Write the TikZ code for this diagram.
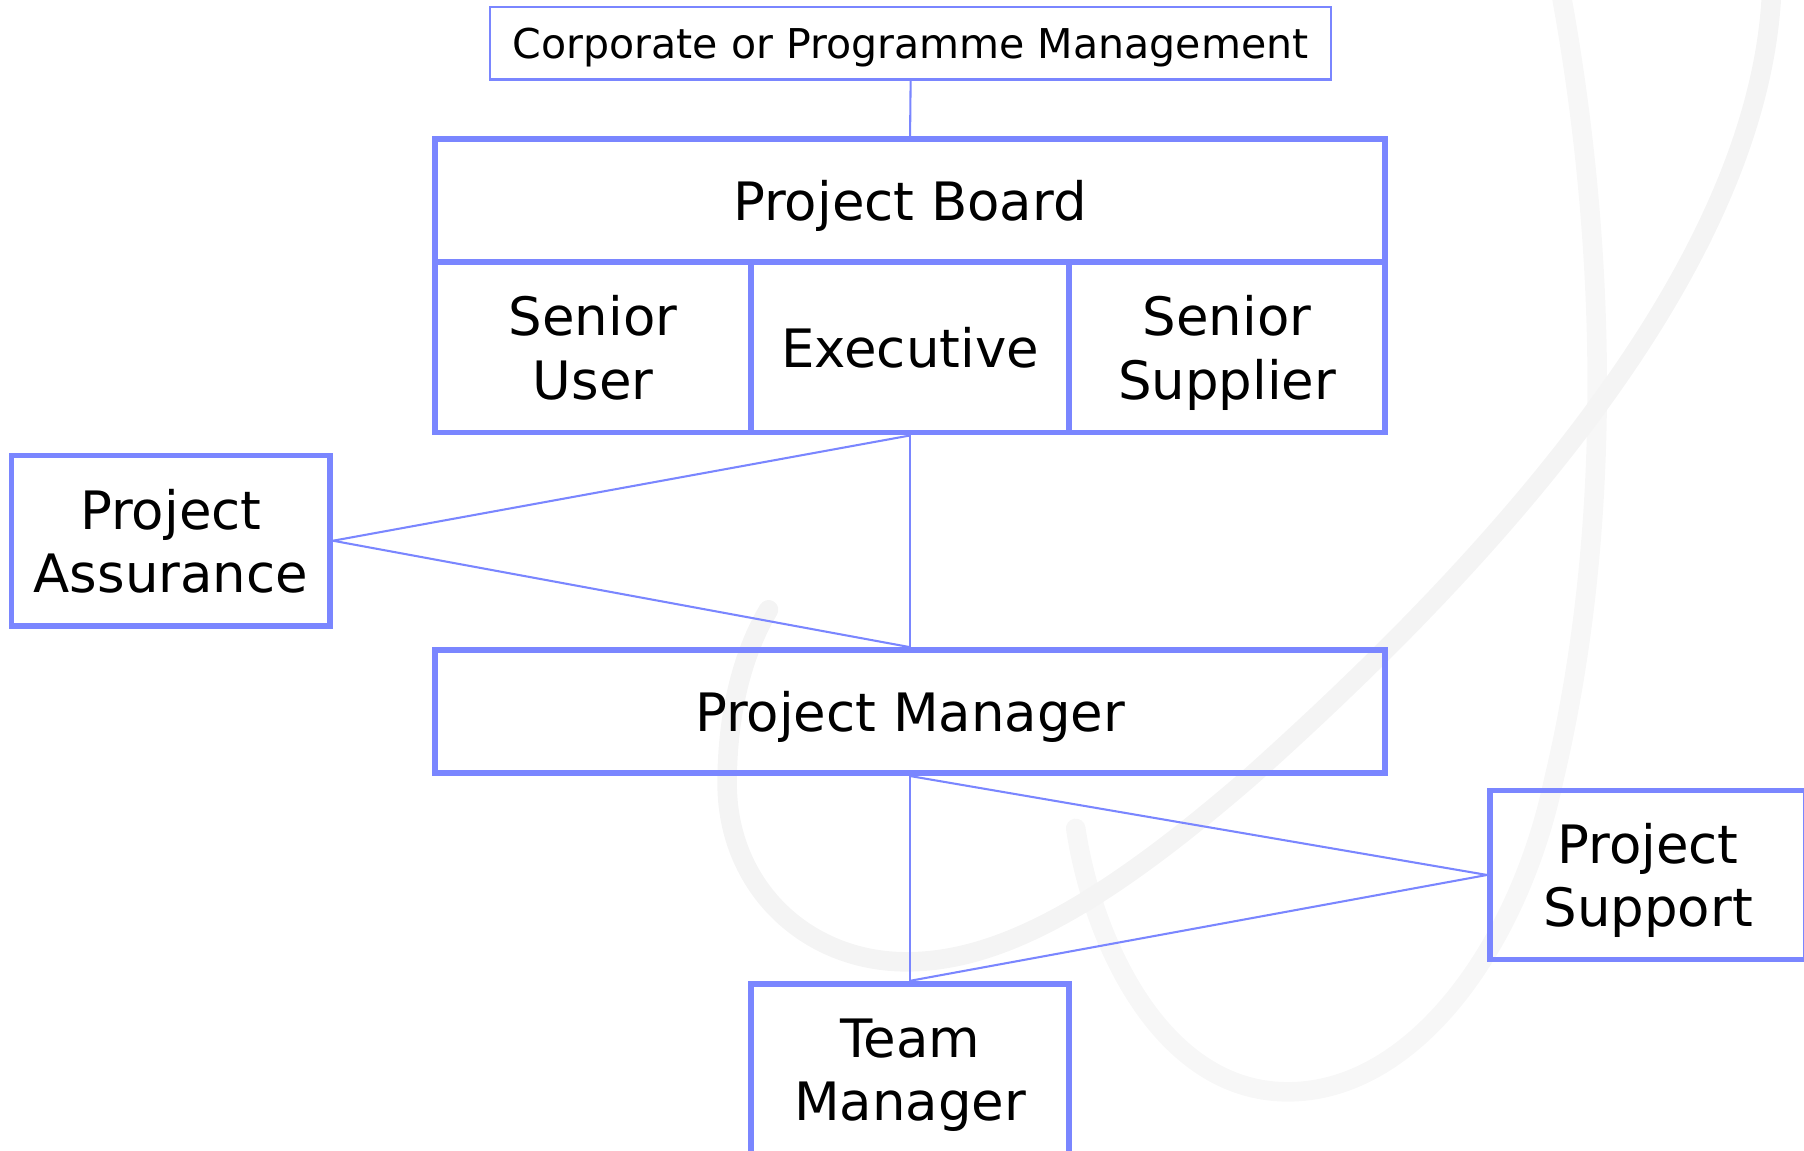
\documentclass[tikz,border=0pt]{standalone}
\usepackage{fontspec}
\setmainfont{DejaVu Sans}
\definecolor{pb}{RGB}{122,134,255}
\definecolor{swa}{RGB}{244,244,244}
\definecolor{swb}{RGB}{247,247,247}
\begin{document}
\begin{tikzpicture}[x=1pt,y=-1pt,
  box/.style={draw=pb, line width=5pt, inner sep=0pt, align=center, text=black,
    text depth=0pt, font=\fontsize{46}{55}\selectfont},
  corpbox/.style={draw=pb, line width=2pt, inner sep=0pt, text=black,
    text depth=0pt, font=\fontsize{35.7}{42}\selectfont},
  conn/.style={draw=pb, line width=1.8pt},
  swoosh/.style={line width=17pt, line cap=round}]
\useasboundingbox (0,0) rectangle (1568,1000);
% background swooshes
\draw[swoosh, swb] (1356,-10) .. controls (1395,200) and (1405,450) .. (1350,680)
  .. controls (1320,820) and (1230,950) .. (1118,949)
  .. controls (1010,948) and (950,820) .. (935,720);
\draw[swoosh, swa] (1540,-10) .. controls (1530,250) and (1260,520) .. (1087,675)
  .. controls (960,785) and (870,836) .. (788,836)
  .. controls (700,836) and (632,770) .. (632,681)
  .. controls (632,610) and (650,560) .. (668,530);
% nodes
\node[corpbox, minimum width=731pt, minimum height=63pt] (corp) at (791.5,37.5) {Corporate or Programme Management};
\node[box, minimum width=826pt, minimum height=107pt] (board) at (791,174.5) {Project Board};
\node[box, minimum width=275pt, minimum height=148pt] (su) at (515.5,302) {Senior\\User};
\node[box, minimum width=276pt, minimum height=148pt] (ex) at (791,302) {Executive};
\node[box, minimum width=275pt, minimum height=148pt] (ss) at (1066.5,302) {Senior\\Supplier};
\node[box, minimum width=277pt, minimum height=148pt] (pa) at (148.5,470) {Project\\Assurance};
\node[box, minimum width=826pt, minimum height=107pt] (pm) at (791,618.5) {Project Manager};
\node[box, minimum width=275pt, minimum height=147pt] (ps) at (1432.5,760.5) {Project\\Support};
\node[box, minimum width=276pt, minimum height=150pt] (tm) at (791,930) {Team\\Manager};
% connectors
\draw[conn] (corp.south) -- (board.north);
\draw[conn] (ex.south) -- (pm.north);
\draw[conn] (ex.south) -- (pa.east);
\draw[conn] (pa.east) -- (pm.north);
\draw[conn] (pm.south) -- (tm.north);
\draw[conn] (pm.south) -- (ps.west);
\draw[conn] (ps.west) -- (tm.north);
\end{tikzpicture}
\end{document}
